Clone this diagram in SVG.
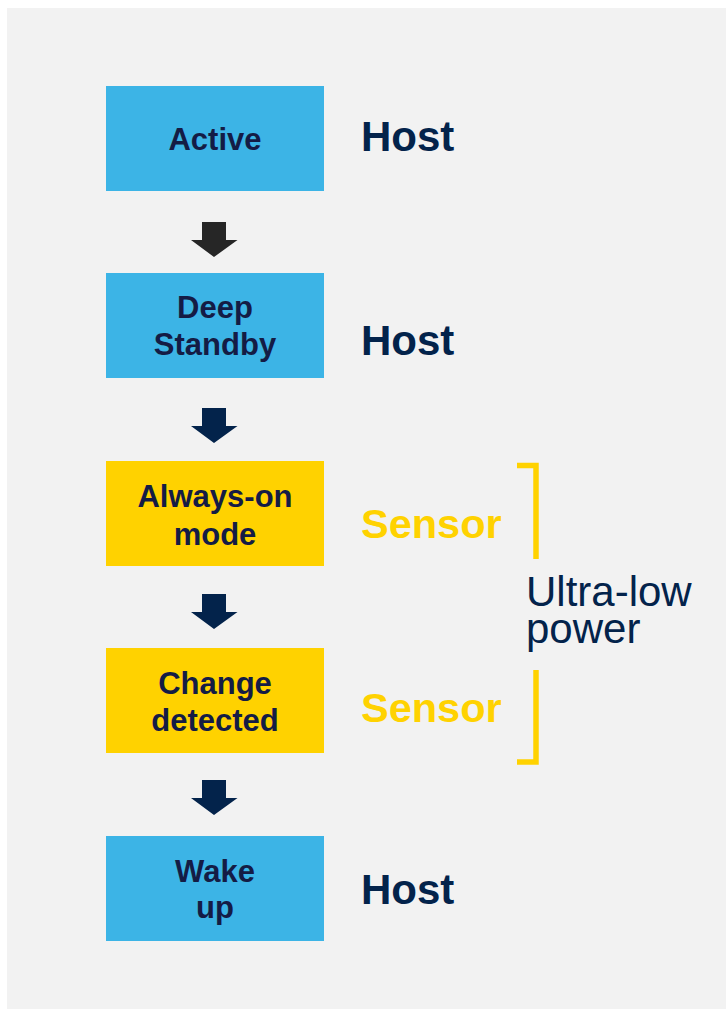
<svg xmlns="http://www.w3.org/2000/svg" width="726" height="1009" viewBox="0 0 726 1009">
<style>
.box-blue{fill:#3cb4e6}
.box-yellow{fill:#ffd200}
.lbl{font-family:"Liberation Sans",Arial,sans-serif;font-weight:bold;font-size:31px;fill:#141c45;text-anchor:middle}
.host{font-family:"Liberation Sans",Arial,sans-serif;font-weight:bold;font-size:42px;fill:#03234b}
.sensor{font-family:"Liberation Sans",Arial,sans-serif;font-weight:bold;font-size:41.5px;fill:#ffd200}
.ulp{font-family:"Liberation Sans",Arial,sans-serif;font-size:42px;fill:#03234b}
.bracket{fill:none;stroke:#ffd200;stroke-width:5.5}
</style>
<defs>
<path id="arrow" d="M-12.5,0 H11.5 V18 H23 L-0.5,35 L-23.5,18 H-12.5 Z"/>
</defs>
<rect x="0" y="0" width="726" height="1009" fill="#ffffff"/>
<rect x="7" y="8" width="719" height="1001" fill="#f2f2f2"/>
<g id="connectors">
<use href="#arrow" x="214.5" y="222" fill="#262626"/>
<use href="#arrow" x="214.5" y="408" fill="#03234b"/>
<use href="#arrow" x="214.5" y="594" fill="#03234b"/>
<use href="#arrow" x="214.5" y="780" fill="#03234b"/>
</g>
<g id="node-active">
<rect class="box-blue" x="106" y="86" width="218" height="105"/>
<text class="lbl" x="215" y="150">Active</text>
</g>
<g id="node-deep-standby">
<rect class="box-blue" x="106" y="273" width="218" height="105"/>
<text class="lbl" x="215" y="318">Deep</text>
<text class="lbl" x="215" y="355">Standby</text>
</g>
<g id="node-always-on">
<rect class="box-yellow" x="106" y="461" width="218" height="105"/>
<text class="lbl" x="215" y="507">Always-on</text>
<text class="lbl" x="215" y="545">mode</text>
</g>
<g id="node-change-detected">
<rect class="box-yellow" x="106" y="648" width="218" height="105"/>
<text class="lbl" x="215" y="694">Change</text>
<text class="lbl" x="215" y="731">detected</text>
</g>
<g id="node-wake-up">
<rect class="box-blue" x="106" y="836" width="218" height="105"/>
<text class="lbl" x="215" y="882">Wake</text>
<text class="lbl" x="215" y="918">up</text>
</g>
<g id="labels">
<text class="host" x="361" y="151">Host</text>
<text class="host" x="361" y="355">Host</text>
<text class="sensor" x="361" y="538">Sensor</text>
<text class="sensor" x="361" y="722">Sensor</text>
<text class="host" x="361" y="904">Host</text>
</g>
<g id="bracket">
<path class="bracket" d="M517,465.5 H536 V559"/>
<path class="bracket" d="M536,670 V762 H517"/>
<text class="ulp" x="526" y="606">Ultra-low<tspan x="526" y="643">power</tspan></text>
</g>
</svg>
